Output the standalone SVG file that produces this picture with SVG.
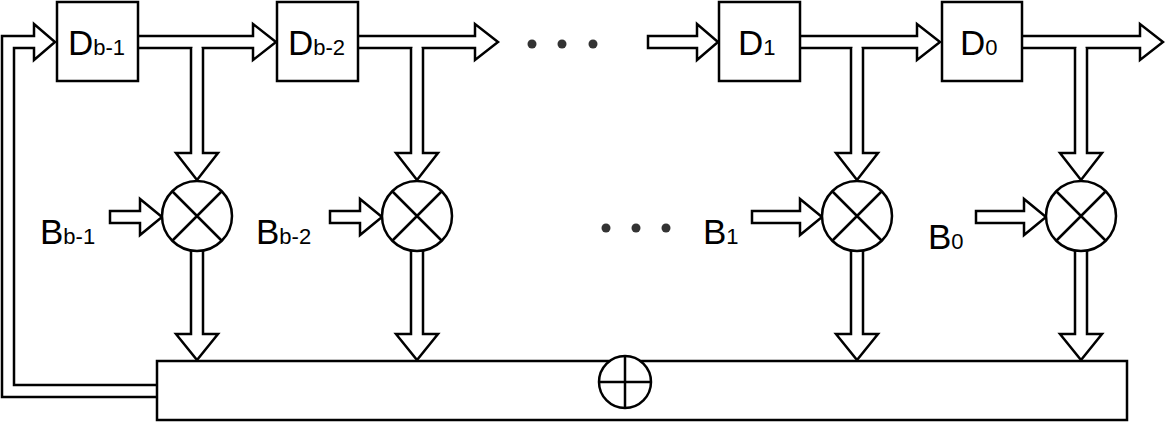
<svg xmlns="http://www.w3.org/2000/svg" width="1165" height="423" viewBox="0 0 1165 423">
<style>
.s{fill:#fff;stroke:#000;stroke-width:2.5}
.o{fill:none;stroke:#000;stroke-width:2.5}
.t{font-family:"Liberation Sans",Arial,sans-serif;font-size:35px}
.sub{font-size:22px}
.d{fill:#333}
</style>
<g id="connectors">
<path class="s" d="M138,36H253V24L276,42L253,60V48H138"/>
<path class="s" d="M358,36H475V24L498,42L475,60V48H358"/>
<path class="s" d="M648,36H697V24L718,42L697,60V48H648Z"/>
<path class="s" d="M800,36H917V24L940,42L917,60V48H800"/>
<path class="s" d="M1022,36H1140V24L1163,42L1140,60V48H1022"/>
<path class="o" d="M157,397H2V36H34V24L55,42L34,60V48H14V385H157"/>
<rect x="192.5" y="46" width="9" height="5" fill="#fff"/>
<rect x="412.5" y="46" width="9" height="5" fill="#fff"/>
<rect x="852.5" y="46" width="9" height="5" fill="#fff"/>
<rect x="1076.5" y="46" width="9" height="5" fill="#fff"/>
<path class="s" d="M191,48V153H176L197,180L218,153H203V48"/>
<path class="s" d="M411,48V153H396L417,180L438,153H423V48"/>
<path class="s" d="M851,48V153H836L857,180L878,153H863V48"/>
<path class="s" d="M1075,48V153H1060L1081,180L1102,153H1087V48"/>
<path class="s" d="M191,251V334H176L197,360L218,334H203V251"/>
<path class="s" d="M411,251V334H396L417,360L438,334H423V251"/>
<path class="s" d="M851,251V334H836L857,360L878,334H863V251"/>
<path class="s" d="M1075,251V334H1060L1081,360L1102,334H1087V251"/>
<path class="s" d="M110,211H140V199L162,217L140,235V223H110Z"/>
<path class="s" d="M330,211H360V199L382,217L360,235V223H330Z"/>
<path class="s" d="M752,211H800V199L822,217L800,235V223H752Z"/>
<path class="s" d="M976,211H1024V199L1046,217L1024,235V223H976Z"/>
</g>
<g id="bus"><rect class="s" x="157" y="361" width="970" height="59"/>
<circle class="s" cx="625" cy="382" r="26"/><path class="o" d="M599,382H651M625,356V408"/></g>
<g id="db1"><rect class="s" x="57" y="2" width="81" height="79"/><text class="t" x="68" y="55">D<tspan class="sub">b-1</tspan></text></g>
<g id="db2"><rect class="s" x="277" y="2" width="81" height="79"/><text class="t" x="288" y="55">D<tspan class="sub">b-2</tspan></text></g>
<g id="d1"><rect class="s" x="719" y="2" width="81" height="79"/><text class="t" x="738" y="55">D<tspan class="sub">1</tspan></text></g>
<g id="d0"><rect class="s" x="942" y="2" width="80" height="79"/><text class="t" x="960" y="55">D<tspan class="sub">0</tspan></text></g>
<g id="m1"><circle class="s" cx="197" cy="216" r="35"/><path class="o" d="M172,191L222,241M222,191L172,241"/></g>
<g id="m2"><circle class="s" cx="417" cy="216" r="35"/><path class="o" d="M392,191L442,241M442,191L392,241"/></g>
<g id="m3"><circle class="s" cx="857" cy="216" r="35"/><path class="o" d="M832,191L882,241M882,191L832,241"/></g>
<g id="m4"><circle class="s" cx="1081" cy="216" r="35"/><path class="o" d="M1056,191L1106,241M1106,191L1056,241"/></g>
<g id="labels">
<text class="t" x="40" y="244">B<tspan class="sub">b-1</tspan></text>
<text class="t" x="256" y="244">B<tspan class="sub">b-2</tspan></text>
<text class="t" x="703" y="244">B<tspan class="sub">1</tspan></text>
<text class="t" x="928" y="249">B<tspan class="sub">0</tspan></text>
</g>
<g id="dots">
<circle class="d" cx="532" cy="44" r="4.5"/><circle class="d" cx="562" cy="44" r="4.5"/><circle class="d" cx="593" cy="44" r="4.5"/>
<circle class="d" cx="606" cy="228" r="4.5"/><circle class="d" cx="636" cy="228" r="4.5"/><circle class="d" cx="666" cy="228" r="4.5"/>
</g>
</svg>
